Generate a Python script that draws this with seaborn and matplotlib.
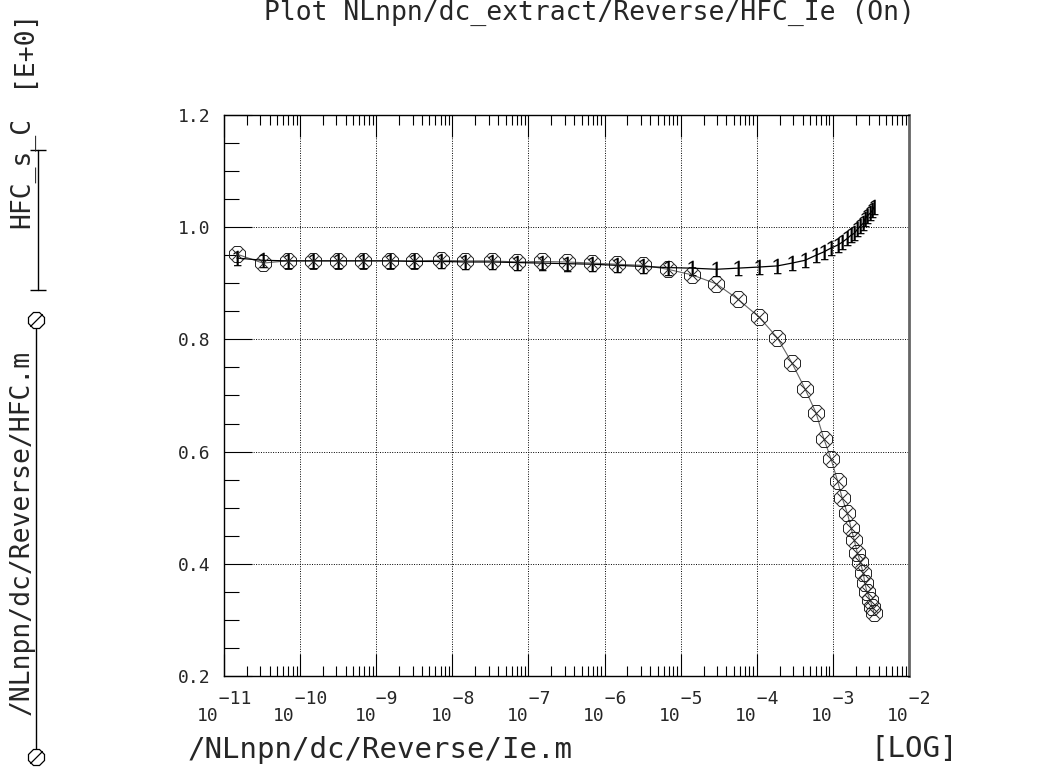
import numpy as np
import matplotlib
matplotlib.use('Agg')
import matplotlib.pyplot as plt
from matplotlib.lines import Line2D
from matplotlib.ticker import FixedLocator, LogLocator, MultipleLocator, NullFormatter
import seaborn as sns

# values
ie_m = [1.48e-11, 3.24e-11, 6.9e-11, 1.48e-10, 3.16e-10, 6.8e-10, 1.51e-9, 3.16e-9,
        7.1e-9, 1.48e-8, 3.3e-8, 7.1e-8, 1.51e-7, 3.24e-7, 6.9e-7, 1.45e-6,
        3.24e-6, 6.8e-6, 1.41e-5, 2.95e-5, 5.6e-5, 1.07e-4, 1.86e-4, 2.9e-4,
        4.3e-4, 6.0e-4, 7.6e-4, 9.5e-4, 1.15e-3, 1.32e-3, 1.55e-3, 1.74e-3,
        1.91e-3, 2.09e-3, 2.29e-3, 2.51e-3, 2.63e-3, 2.82e-3, 3.09e-3, 3.31e-3, 3.47e-3]
hfc_m = [0.952, 0.936, 0.940, 0.940, 0.940, 0.940, 0.940, 0.940, 0.941, 0.940,
         0.940, 0.938, 0.939, 0.938, 0.936, 0.934, 0.932, 0.925, 0.915, 0.899,
         0.872, 0.840, 0.803, 0.758, 0.712, 0.669, 0.623, 0.586, 0.548, 0.518,
         0.490, 0.463, 0.442, 0.420, 0.403, 0.383, 0.365, 0.349, 0.335, 0.323, 0.312]
hfc_s_c = [0.945, 0.941, 0.940, 0.940, 0.940, 0.940, 0.940, 0.939, 0.939, 0.938,
           0.938, 0.937, 0.936, 0.935, 0.934, 0.932, 0.930, 0.928, 0.927, 0.925,
           0.927, 0.929, 0.931, 0.936, 0.941, 0.950, 0.956, 0.963, 0.968, 0.973,
           0.980, 0.986, 0.989, 0.996, 1.002, 1.007, 1.014, 1.020, 1.025, 1.030, 1.036]

x_decades = [-11, -10, -9, -8, -7, -6, -5, -4, -3, -2]
y_ticks = [0.2, 0.4, 0.6, 0.8, 1.0, 1.2]
y_ticklabels = ['0.2', '0.4', '0.6', '0.8', '1.0', '1.2']

title_text = 'Plot NLnpn/dc_extract/Reverse/HFC_Ie (On)'
x_label = '/NLnpn/dc/Reverse/Ie.m'
x_unit = '[LOG]'
y_label_meas = '/NLnpn/dc/Reverse/HFC.m'
y_label_sim = 'HFC_s_C'
y_exp = '[E+0]'

sns.set_theme(style='white')
plt.rcParams['font.family'] = ['DejaVu Sans Mono', 'DejaVu Sans']
plt.rcParams['mathtext.fontset'] = 'dejavuserif'

W, H = 1039, 770
fig = plt.figure(figsize=(W / 100, H / 100), dpi=100)
ax = fig.add_axes([224 / W, 1 - 676 / H, 685 / W, 561 / H])

# measured: octagon with a cross, grey connecting line
sns.lineplot(x=ie_m, y=hfc_m, ax=ax, color='#666666', lw=0.8, marker='8',
             markersize=12, markerfacecolor='none', markeredgecolor='#222222',
             markeredgewidth=0.7)
sns.scatterplot(x=ie_m, y=hfc_m, ax=ax, marker='x', s=55, color='#222222',
                linewidth=0.7, zorder=3)
# simulated: '1' markers, black line
sns.lineplot(x=ie_m, y=hfc_s_c, ax=ax, color='black', lw=0.9, marker='$1$',
             markersize=11, markeredgewidth=0.1, markeredgecolor='black',
             markerfacecolor='black')

ax.set_xscale('log')
ax.set_xlim(1e-11, 1e-2)
ax.set_ylim(0.2, 1.2)

ax.xaxis.set_major_locator(FixedLocator([10.0 ** d for d in x_decades]))
ax.set_xticklabels(['  \u2212%d\n10' % (-d) for d in x_decades],
                   multialignment='left', fontsize=13, linespacing=0.95)
ax.xaxis.set_minor_locator(LogLocator(base=10, subs=np.arange(2, 10), numticks=200))
ax.xaxis.set_minor_formatter(NullFormatter())
ax.yaxis.set_major_locator(FixedLocator(y_ticks))
ax.set_yticklabels(y_ticklabels, fontsize=13)
ax.yaxis.set_minor_locator(MultipleLocator(0.05))

ax.tick_params(axis='x', which='major', direction='in', length=16, width=0.8,
               bottom=True, top=True, color='black', pad=10)
ax.tick_params(axis='x', which='minor', direction='in', length=7, width=0.8,
               bottom=True, top=True, color='black')
ax.tick_params(axis='y', which='major', direction='in', length=20, width=0.8,
               left=True, right=False, color='black', pad=10)
ax.tick_params(axis='y', which='minor', direction='in', length=11, width=0.8,
               left=True, right=False, color='black')

ax.grid(True, which='major', color='black', lw=0.7, ls=(0, (1, 1.5)))
ax.grid(False, which='minor')
for side in ['left', 'top', 'bottom']:
    ax.spines[side].set_color('black')
    ax.spines[side].set_linewidth(1.0)
ax.spines['right'].set_color('#666666')
ax.spines['right'].set_linewidth(2.0)

ax.set_xlabel(x_label, fontsize=21, ha='left')
ax.xaxis.set_label_coords((188 - 224) / 685, (676 - 736) / 561)
fig.text(870 / W, 1 - 749 / H, x_unit, fontsize=21, ha='left', va='center')

fig.text(589 / W, 1 - 13 / H, title_text, fontsize=19, ha='center', va='center')

# left-hand legend column
fig.text(22 / W, 1 - 47 / H, y_exp, fontsize=19, rotation=90, ha='center', va='center')
fig.text(22 / W, 1 - 172 / H, y_label_sim, fontsize=19, rotation=90, ha='center', va='center')
fig.text(22 / W, 1 - 532 / H, y_label_meas, fontsize=19, rotation=90, ha='center', va='center')

tr = fig.transFigure
fig.add_artist(Line2D([38 / W, 38 / W], [1 - 150 / H, 1 - 290 / H], transform=tr,
                      color='black', lw=1.0, marker='_', markersize=12, mew=1.0))
fig.add_artist(Line2D([36 / W, 36 / W], [1 - 320 / H, 1 - 757 / H], transform=tr,
                      color='black', lw=1.0, marker='8', markersize=12,
                      markerfacecolor='white', markeredgecolor='black', mew=0.9))
fig.add_artist(Line2D([36 / W, 36 / W], [1 - 320 / H, 1 - 757 / H], transform=tr,
                      lw=0, marker=[(-1, -1), (1, 1)], markersize=9,
                      markeredgecolor='black', mew=0.9))

fig.savefig('out.png', dpi=100)
